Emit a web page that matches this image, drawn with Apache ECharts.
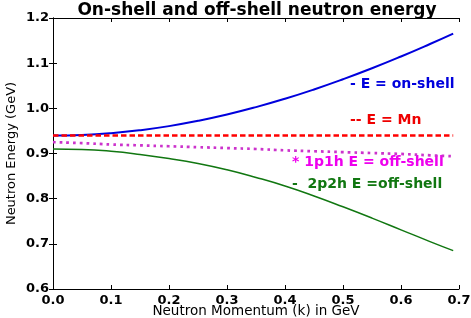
<!DOCTYPE html>
<html><head><meta charset="utf-8">
<script src="https://cdn.jsdelivr.net/npm/echarts@6/dist/echarts.min.js"></script>
<style>html,body{margin:0;padding:0;background:#fff}#c{width:471px;height:318px}</style>
</head><body><div id="c"></div>
<script>
const momentum = [0, 0.05, 0.1, 0.15, 0.2, 0.25, 0.3, 0.35, 0.4, 0.45, 0.5, 0.55, 0.6, 0.65, 0.69];
const onShell = [0.9396, 0.9409, 0.9449, 0.9515, 0.9606, 0.9723, 0.9863, 1.0027, 1.0212, 1.0418, 1.0644, 1.0887, 1.1148, 1.1424, 1.1654];
const massMn = [0.9396, 0.9396, 0.9396, 0.9396, 0.9396, 0.9396, 0.9396, 0.9396, 0.9396, 0.9396, 0.9396, 0.9396, 0.9396, 0.9396, 0.9396];
const offShell1p1h = [0.925, 0.923, 0.920, 0.918, 0.916, 0.914, 0.912, 0.910, 0.907, 0.905, 0.903, 0.901, 0.899, 0.896, 0.894];
const offShell2p2h = [0.910, 0.909, 0.905, 0.898, 0.889, 0.878, 0.864, 0.847, 0.828, 0.806, 0.782, 0.757, 0.731, 0.705, 0.685];
const xTicks = ['0.0','0.1','0.2','0.3','0.4','0.5','0.6','0.7'];
const yTicks = ['0.6','0.7','0.8','0.9','1.0','1.1','1.2'];
const titleText = 'On-shell and off-shell neutron energy';
const xName = 'Neutron Momentum (k) in GeV';
const yName = 'Neutron Energy (GeV)';
const notes = [
  {k: 0.512, e: 1.052, text: '- E = on-shell', color: '#0000dd'},
  {k: 0.512, e: 0.973, text: '-- E = Mn', color: '#ee0000'},
  {k: 0.412, e: 0.880, text: '* 1p1h E = off-shell', color: '#ee00ee'},
  {k: 0.412, e: 0.831, text: '-  2p2h E =off-shell', color: '#117711'}
];

const pair = a => momentum.map((k, i) => [k, a[i]]);
const chart = echarts.init(document.getElementById('c'));
const lblFont = {fontFamily: 'DejaVu Sans', fontWeight: 'bold', fontSize: 13, color: '#000'};
const inTick = {show: true, inside: true, length: 4, lineStyle: {color: '#000'}};
chart.setOption({
  animation: false,
  title: {text: titleText, left: 252, textAlign: 'center', top: -3,
    textStyle: {fontFamily: 'DejaVu Sans', fontWeight: 'bold', fontSize: 17, color: '#000'}},
  grid: {left: 53, right: 12, top: 18, bottom: 29, containLabel: false, outerBoundsMode: 'none'},
  xAxis: [
    {type: 'value', min: 0, max: 0.7, interval: 0.1, name: xName, nameLocation: 'middle', nameGap: 15, nameMoveOverlap: false,
     nameTextStyle: {fontFamily: 'DejaVu Sans', fontSize: 13.5, color: '#000'},
     axisLine: {lineStyle: {color: '#000'}}, axisTick: inTick, splitLine: {show: false},
     axisLabel: Object.assign({margin: 5, formatter: (v) => xTicks[Math.round(v*10)]}, lblFont)},
    {type: 'value', position: 'top', min: 0, max: 0.7, interval: 0.1,
     axisLine: {show: true, lineStyle: {color: '#000'}}, axisTick: inTick, axisLabel: {show: false}, splitLine: {show: false}}
  ],
  yAxis: [
    {type: 'value', min: 0.6, max: 1.2, interval: 0.1, name: yName, nameLocation: 'middle', nameGap: 35, nameMoveOverlap: false,
     nameTextStyle: {fontFamily: 'DejaVu Sans', fontSize: 13, color: '#000'},
     axisLine: {show: true, lineStyle: {color: '#000'}}, axisTick: inTick, splitLine: {show: false},
     axisLabel: Object.assign({margin: 4, formatter: (v) => yTicks[Math.round(v*10) - 6]}, lblFont)},
    {type: 'value', position: 'right', min: 0.6, max: 1.2, interval: 0.1,
     axisLine: {show: true, lineStyle: {color: '#000'}}, axisTick: inTick, axisLabel: {show: false}, splitLine: {show: false}}
  ],
  series: [
    {type: 'line', data: pair(onShell), showSymbol: false, smooth: true, lineStyle: {color: '#0000dd', width: 2}},
    {type: 'line', data: pair(massMn), showSymbol: false, lineStyle: {color: '#ff0000', width: 2.5, type: [5.5, 3]}},
    {type: 'line', data: pair(offShell1p1h), showSymbol: false, smooth: true, lineStyle: {color: '#cc33cc', width: 2.7, type: [2.7, 4]}},
    {type: 'line', data: pair(offShell2p2h), showSymbol: false, smooth: true, lineStyle: {color: '#117711', width: 1.5}}
  ]
});
chart.setOption({
  graphic: notes.map(n => {
    const p = chart.convertToPixel({xAxisIndex: 0, yAxisIndex: 0}, [n.k, n.e]);
    return {type: 'text', x: p[0], y: p[1], style: {text: n.text, fill: n.color, font: 'bold 14px "DejaVu Sans"', verticalAlign: 'middle'}};
  })
});
</script></body></html>
